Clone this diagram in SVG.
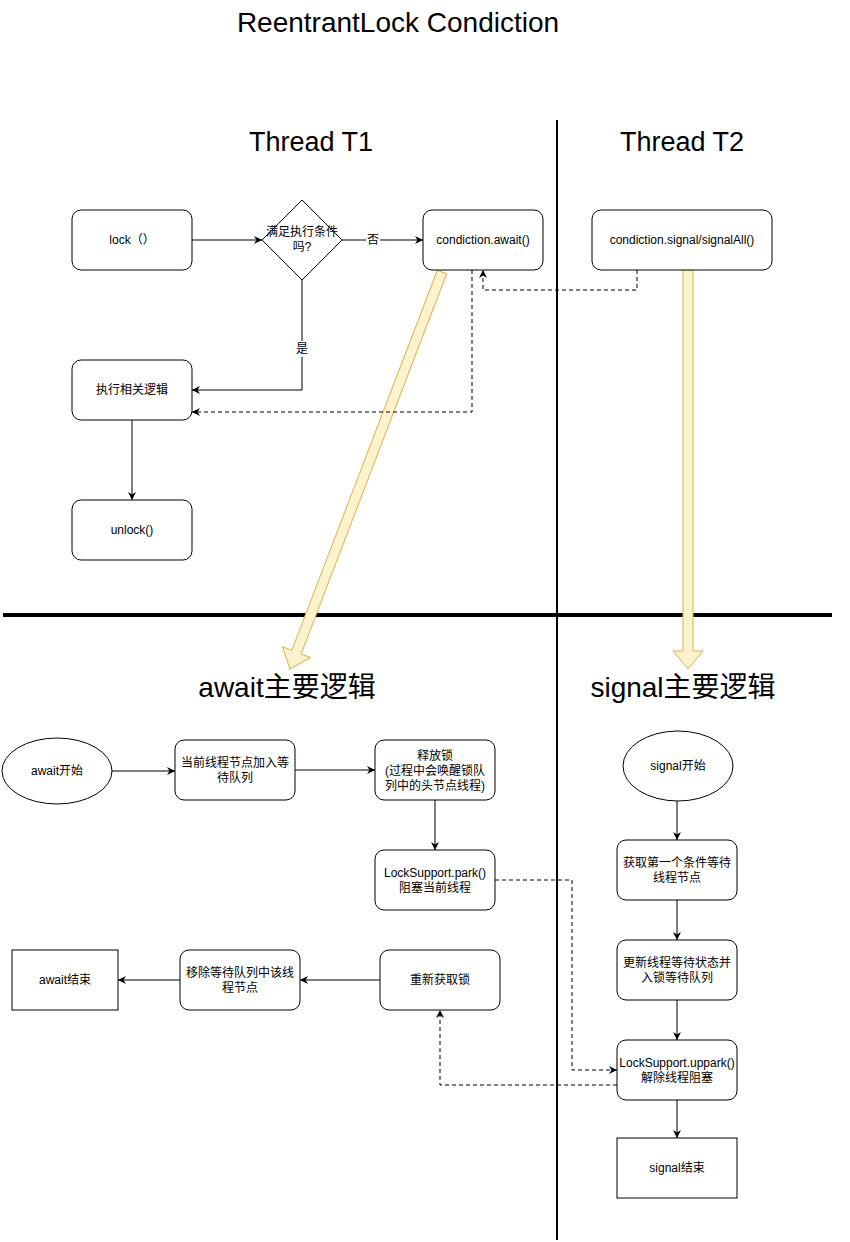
<svg xmlns="http://www.w3.org/2000/svg" width="850" height="1242" viewBox="0 0 850 1242">
<style>
text{font-family:"Liberation Sans","Noto Sans CJK SC",sans-serif;fill:#000;text-anchor:middle}
.t{font-size:12px}
.h{font-size:28px}
.h2{font-size:27px}
.n{fill:#fff;stroke:#000;stroke-width:1}
.e{fill:none;stroke:#000;stroke-width:1}
.d{fill:none;stroke:#000;stroke-width:1;stroke-dasharray:4 3}
.y{fill:#fff2cc;stroke:#d6b656;stroke-width:1}
.lb{fill:#fff}
</style>
<defs>
<marker id="arr" markerWidth="10" markerHeight="10" refX="8" refY="4" orient="auto" markerUnits="userSpaceOnUse"><path d="M0,0 L8,4 L0,8 L2.5,4 Z" fill="#000"/></marker>
</defs>
<rect width="850" height="1242" fill="#fff"/>
<g id="titles">
<text class="h" x="398" y="32">ReentrantLock Condiction</text>
<text class="h2" x="311" y="151">Thread T1</text>
<text class="h2" x="682" y="151">Thread T2</text>
<text class="h" x="287" y="697">await主要逻辑</text>
<text class="h" x="683" y="697">signal主要逻辑</text>
</g>
<g id="dividers">
<line x1="557" y1="120" x2="557" y2="1240" stroke="#000" stroke-width="2"/>
<line x1="3" y1="615" x2="832" y2="615" stroke="#000" stroke-width="4"/>
</g>
<g id="big-arrows">
<polygon class="y" transform="translate(442,272) rotate(110.95)" points="0,-5 407,-5 407,-15 425,0 407,15 407,5 0,5"/>
<polygon class="y" points="683,270 693,270 693,651 703,651 688,669 673,651 683,651"/>
</g>
<g id="connectors">
<line class="e" x1="192" y1="240" x2="262" y2="240" marker-end="url(#arr)"/>
<line class="e" x1="342" y1="240" x2="423" y2="240" marker-end="url(#arr)"/>
<rect class="lb" x="366" y="232" width="14" height="16"/>
<text class="t" x="373" y="244">否</text>
<polyline class="e" points="302,280 302,390 192,390" marker-end="url(#arr)"/>
<rect class="lb" x="295" y="341" width="14" height="16"/>
<text class="t" x="302" y="353">是</text>
<line class="e" x1="132" y1="420" x2="132" y2="500" marker-end="url(#arr)"/>
<polyline class="d" points="472,270 472,412 192,412" marker-end="url(#arr)"/>
<polyline class="d" points="637,270 637,290 483,290 483,270" marker-end="url(#arr)"/>
<line class="e" x1="112" y1="771" x2="175" y2="771" marker-end="url(#arr)"/>
<line class="e" x1="295" y1="770" x2="375" y2="770" marker-end="url(#arr)"/>
<line class="e" x1="435" y1="800" x2="435" y2="850" marker-end="url(#arr)"/>
<line class="e" x1="380" y1="980" x2="300" y2="980" marker-end="url(#arr)"/>
<line class="e" x1="180" y1="980" x2="118" y2="980" marker-end="url(#arr)"/>
<polyline class="d" points="495,880 572,880 572,1070 617,1070" marker-end="url(#arr)"/>
<polyline class="d" points="617,1085 440,1085 440,1010" marker-end="url(#arr)"/>
<line class="e" x1="677" y1="801" x2="677" y2="840" marker-end="url(#arr)"/>
<line class="e" x1="677" y1="900" x2="677" y2="940" marker-end="url(#arr)"/>
<line class="e" x1="677" y1="1000" x2="677" y2="1040" marker-end="url(#arr)"/>
<line class="e" x1="677" y1="1100" x2="677" y2="1138" marker-end="url(#arr)"/>
</g>
<g id="lock"><rect class="n" x="72" y="210" width="120" height="60" rx="9"/><text class="t" x="132" y="244">lock（）</text></g>
<g id="cond"><polygon class="n" points="302,200 342,240 302,280 262,240"/><text class="t" x="302" y="236">满足执行条件</text><text class="t" x="302" y="251">吗?</text></g>
<g id="await"><rect class="n" x="423" y="210" width="120" height="60" rx="9"/><text class="t" x="483" y="244">condiction.await()</text></g>
<g id="signal"><rect class="n" x="592" y="210" width="180" height="60" rx="9"/><text class="t" x="682" y="244">condiction.signal/signalAll()</text></g>
<g id="logic"><rect class="n" x="72" y="360" width="120" height="60" rx="9"/><text class="t" x="132" y="394">执行相关逻辑</text></g>
<g id="unlock"><rect class="n" x="72" y="500" width="120" height="60" rx="9"/><text class="t" x="132" y="534">unlock()</text></g>
<g id="await-start"><ellipse class="n" cx="57" cy="771" rx="55" ry="33"/><text class="t" x="57" y="775">await开始</text></g>
<g id="add-queue"><rect class="n" x="175" y="740" width="120" height="60" rx="9"/><text class="t" x="235" y="767">当前线程节点加入等</text><text class="t" x="235" y="782">待队列</text></g>
<g id="release"><rect class="n" x="375" y="740" width="120" height="60" rx="9"/><text class="t" x="435" y="760">释放锁</text><text class="t" x="435" y="775"> (过程中会唤醒锁队</text><text class="t" x="435" y="790">列中的头节点线程)</text></g>
<g id="park"><rect class="n" x="375" y="850" width="120" height="60" rx="9"/><text class="t" x="435" y="877">LockSupport.park()</text><text class="t" x="435" y="892">阻塞当前线程</text></g>
<g id="reacquire"><rect class="n" x="380" y="950" width="120" height="60" rx="9"/><text class="t" x="440" y="984">重新获取锁</text></g>
<g id="remove"><rect class="n" x="180" y="950" width="120" height="60" rx="9"/><text class="t" x="240" y="977">移除等待队列中该线</text><text class="t" x="240" y="992">程节点</text></g>
<g id="await-end"><rect class="n" x="12" y="950" width="106" height="60"/><text class="t" x="65" y="984">await结束</text></g>
<g id="signal-start"><ellipse class="n" cx="678" cy="766" rx="55" ry="35"/><text class="t" x="678" y="770">signal开始</text></g>
<g id="get-first"><rect class="n" x="617" y="840" width="120" height="60" rx="9"/><text class="t" x="677" y="867">获取第一个条件等待</text><text class="t" x="677" y="882">线程节点</text></g>
<g id="update"><rect class="n" x="617" y="940" width="120" height="60" rx="9"/><text class="t" x="677" y="967">更新线程等待状态并</text><text class="t" x="677" y="982">入锁等待队列</text></g>
<g id="unpark"><rect class="n" x="617" y="1040" width="120" height="60" rx="9"/><text class="t" x="677" y="1067">LockSupport.uppark()</text><text class="t" x="677" y="1082">解除线程阻塞</text></g>
<g id="signal-end"><rect class="n" x="617" y="1138" width="120" height="60"/><text class="t" x="677" y="1172">signal结束</text></g>
</svg>
